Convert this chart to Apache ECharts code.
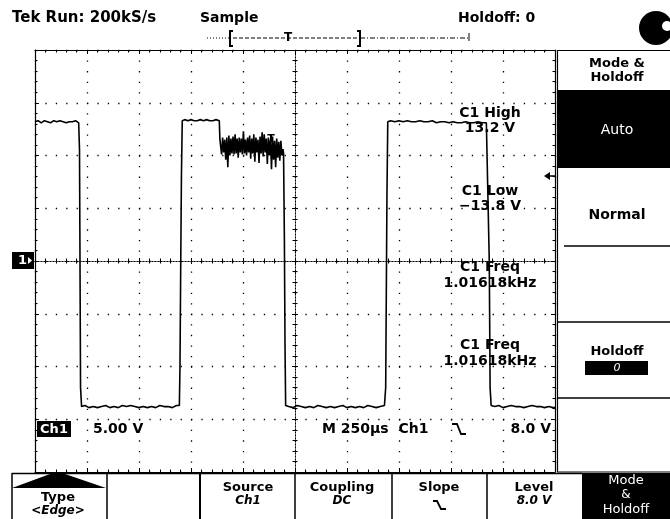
<!DOCTYPE html>
<html>
<head>
<meta charset="utf-8">
<script src="https://cdn.jsdelivr.net/npm/echarts@6/dist/echarts.min.js"></script>
<style>html,body{margin:0;padding:0;background:#fff}#c{width:670px;height:519px}</style>
</head>
<body>
<div id="c"></div>
<script>
// ---- scope settings ----
const voltsPerDiv = 5;          // Ch1 5.00 V
const timePerDiv = 250;         // M 250µs
const yMin = -20, yMax = 20;    // 8 vertical divisions, ground at centre
const xMin = 0, xMax = 2500;    // 10 horizontal divisions (µs)

// ---- trace samples [time µs, volts] ----
const high1 = [[0,13.2],[15,13.3],[30,13.1],[45,13.3],[60,13.2],[75,13.1],[90,13.3],[105,13.2],[120,13.3],[135,13.2],[150,13.1],[165,13.2],[180,13.2],[195,13.3],[210,13.1]];
const fall1 = [[214,10.5],[219,-12.0],[224,-13.8]];
const low1 = [[240,-13.7],[260,-13.9],[280,-13.8],[300,-13.9],[320,-13.8],[340,-13.7],[360,-13.9],[380,-13.8],[400,-13.9],[420,-13.7],[440,-13.8],[460,-13.7],[480,-13.8],[500,-13.9],[520,-13.8],[540,-13.9],[560,-13.8],[580,-13.9],[600,-13.7],[620,-13.8],[640,-13.8],[660,-13.9],[680,-13.7],[694,-13.7]];
const rise1 = [[697,-10.0],[700,-2.0],[704,8.0],[708,13.3]];
const high2 = [[720,13.4],[735,13.3],[750,13.4],[765,13.3],[780,13.3],[795,13.4],[810,13.3],[825,13.4],[840,13.3],[855,13.3],[870,13.4],[886,13.3],[889,11.5]];
const noisy = [[892,11.4],[897,10.1],[902,11.7],[907,10.3],[912,11.5],[917,9.6],[922,11.7],[927,8.9],[932,11.9],[937,10.0],[942,11.6],[947,10.2],[952,11.8],[957,10.1],[962,12.0],[967,10.2],[972,11.6],[977,9.8],[982,11.7],[987,10.3],[992,11.6],[997,10.1],[1002,12.3],[1007,10.2],[1012,11.5],[1017,10.0],[1022,11.7],[1027,10.3],[1032,11.9],[1037,9.7],[1042,11.6],[1047,10.2],[1052,12.0],[1057,9.4],[1062,11.7],[1067,10.3],[1072,11.5],[1077,9.3],[1082,11.8],[1087,10.2],[1092,12.2],[1097,9.9],[1102,12.0],[1107,10.3],[1112,11.6],[1117,9.2],[1122,11.7],[1127,10.0],[1132,11.5],[1137,8.7],[1142,11.8],[1147,9.6],[1152,11.4],[1157,8.9],[1162,11.6],[1167,9.8],[1172,11.3],[1177,9.5],[1182,11.4],[1187,10.0],[1192,10.6]];
const fall2 = [[1195,10.2],[1199,2.0],[1202,-8.0],[1205,-13.7]];
const low2 = [[1220,-13.8],[1240,-13.9],[1260,-13.7],[1280,-13.8],[1300,-13.9],[1320,-13.8],[1340,-13.9],[1360,-13.7],[1380,-13.8],[1400,-13.9],[1420,-13.8],[1440,-13.9],[1460,-13.8],[1480,-13.7],[1500,-13.9],[1520,-13.8],[1540,-13.9],[1560,-13.8],[1580,-13.9],[1600,-13.7],[1620,-13.8],[1640,-13.9],[1660,-13.8],[1680,-13.7]];
const rise2 = [[1686,-12.0],[1689,-3.0],[1692,6.0],[1696,13.2]];
const high3 = [[1710,13.3],[1730,13.2],[1750,13.3],[1770,13.2],[1790,13.3],[1810,13.2],[1830,13.2],[1850,13.3],[1870,13.2],[1890,13.2],[1910,13.3],[1930,13.1],[1950,13.2],[1970,13.2],[1990,13.1],[2010,13.2],[2030,13.1],[2050,13.1],[2070,13.2],[2090,13.1],[2110,13.1],[2130,13.2],[2150,13.1],[2170,13.1],[2178,13.1]];
const fall3 = [[2184,0.0],[2188,-12.0],[2193,-13.7]];
const low3 = [[2210,-13.8],[2230,-13.7],[2250,-13.9],[2270,-13.8],[2290,-13.7],[2310,-13.8],[2330,-13.8],[2350,-13.9],[2370,-13.8],[2390,-13.7],[2410,-13.8],[2430,-13.8],[2450,-13.9],[2470,-13.8],[2490,-13.9],[2500,-13.9]];

// ---- readouts ----
const measureLabels = ['C1 High', '13.2 V', 'C1 Low', '\u221213.8 V', 'C1 Freq', '1.01618kHz', 'C1 Freq', '1.01618kHz'];
const bottomMenu = [['Type', '<Edge>'], ['', ''], ['Source', 'Ch1'], ['Coupling', 'DC'], ['Slope', ''], ['Level', '8.0 V']];

const trace = [].concat(high1, fall1, low1, rise1, high2, noisy, fall2, low2, rise2, high3, fall3, low3);

const K = '#000';
const F = '"DejaVu Sans", sans-serif';
function txt(t, x, y, opt) {
  opt = opt || {};
  return {type:'text', x:x, y:y, z:100, silent:true,
    style:{text:t, font:(opt.font || 'bold 14px ' + F), fill:opt.fill || K,
      textAlign:opt.align || 'left', textVerticalAlign:'middle'}};
}
function ln(x1,y1,x2,y2,w,dash) {
  return {type:'line', z:90, silent:true, shape:{x1:x1,y1:y1,x2:x2,y2:y2},
    style:{stroke:K, lineWidth:w||1, lineDash:dash||null}};
}
function rect(x,y,w,h,fill) {
  return {type:'rect', z:80, silent:true, shape:{x:x,y:y,width:w,height:h}, style:{fill:fill||K}};
}
function pl(points,w) {
  return {type:'polyline', z:100, silent:true, shape:{points:points}, style:{stroke:K, fill:null, lineWidth:w||1.6}};
}

const els = [];
// header
els.push(txt('Tek Run: 200kS/s', 12, 18, {font:'bold 15px ' + F}));
els.push(txt('Sample', 200, 18));
els.push(txt('Holdoff: 0', 458, 18));
els.push({type:'circle', z:90, shape:{cx:656, cy:28, r:17}, style:{fill:K}});
els.push({type:'circle', z:91, shape:{cx:667, cy:26, r:5}, style:{fill:'#fff'}});
// record bar
els.push(ln(207, 38, 230, 38, 1, [1, 2]));
els.push(ln(233, 38, 357, 38, 1, [4, 2]));
els.push(ln(360, 38, 468, 38, 1, [5, 2, 1, 2]));
els.push(pl([[233,31],[230,31],[230,46],[233,46]], 2));
els.push(pl([[357,31],[360,31],[360,46],[357,46]], 2));
els.push(txt('T', 288, 38, {align:'center', font:'bold 12px ' + F}));
els.push(ln(469, 33, 469, 41, 1));
// ground marker
els.push(rect(12, 252, 22, 17));
els.push(txt('1', 18, 260.5, {fill:'#fff', font:'bold 13px ' + F}));
els.push({type:'polygon', z:100, shape:{points:[[28,257],[32,260.5],[28,264]]}, style:{fill:'#fff'}});
// trigger level arrow
els.push({type:'polygon', z:100, shape:{points:[[544,176],[550,172],[550,180]]}, style:{fill:K}});
els.push(ln(550, 176, 556, 176, 1.5));
// trigger point marker on trace
els.push(txt('T', 271, 139, {align:'center', font:'bold 11px ' + F}));
// measurement readouts
const my = [113, 128, 191, 206, 267, 283, 345, 361];
measureLabels.forEach((t, i) => els.push(txt(t, 490, my[i], {align:'center'})));
// bottom status line inside graticule
els.push(rect(37, 421, 34, 16));
els.push(txt('Ch1', 54, 429.5, {align:'center', fill:'#fff', font:'bold 13px ' + F}));
els.push(txt('5.00 V', 93, 429));
els.push(txt('M 250\u00b5s  Ch1', 322, 429));
els.push(pl([[452,424],[457,424],[461,434],[466,434]], 1.8));
els.push(txt('8.0 V', 551, 429, {align:'right'}));
// right menu
els.push(ln(557.5, 50, 557.5, 472, 1.2));
els.push(ln(557, 50.5, 670, 50.5, 1.2));
els.push(ln(557, 472, 670, 472, 1.2));
els.push(txt('Mode &', 617, 64, {align:'center', font:'bold 13px ' + F}));
els.push(txt('Holdoff', 617, 78, {align:'center', font:'bold 13px ' + F}));
els.push(rect(558, 90, 112, 78));
els.push(txt('Auto', 617, 130, {align:'center', fill:'#fff', font:'14px ' + F}));
els.push(txt('Normal', 617, 215, {align:'center'}));
els.push(ln(564, 246, 670, 246, 1.5));
els.push(ln(557, 322, 670, 322, 1.5));
els.push(txt('Holdoff', 617, 352, {align:'center', font:'bold 13px ' + F}));
els.push(rect(585, 361, 63, 14));
els.push(txt('0', 617, 368, {align:'center', fill:'#fff', font:'italic 11px ' + F}));
els.push(ln(557, 398, 670, 398, 1.5));
// bottom menu
els.push(ln(12, 473.5, 582, 473.5, 1.5));
[12, 107, 200, 295, 392, 487].forEach(x => els.push(ln(x, 473, x, 519, x === 200 ? 2 : 1.5)));
els.push(rect(582, 473, 88, 46));
els.push({type:'polygon', z:100, shape:{points:[[12,488],[50,474],[65,474],[106,488]]}, style:{fill:K}});
const bcx = [58, 153, 248, 342, 439, 534];
bottomMenu.forEach((b, i) => {
  if (!b[0]) return;
  const top = i === 0 ? 498 : 488;
  els.push(txt(b[0], bcx[i], top, {align:'center', font:'bold 13px ' + F}));
  if (b[1]) els.push(txt(b[1], bcx[i], top + 13, {align:'center', font:'bold italic 12px ' + F}));
});
els.push(pl([[433,501],[437,501],[441,509],[446,509]], 1.8));
els.push(txt('Mode', 626, 481, {align:'center', fill:'#fff', font:'13px ' + F}));
els.push(txt('&', 626, 495, {align:'center', fill:'#fff', font:'12px ' + F}));
els.push(txt('Holdoff', 626, 510, {align:'center', fill:'#fff', font:'13px ' + F}));

const tickStyle = {color:K, width:1};
function edgeAxis(extra) {
  return Object.assign({
    type:'value', axisLabel:{show:false},
    axisLine:{show:true, onZero:false, lineStyle:{color:K, width:1.2}},
    axisTick:{show:true, inside:true, length:4, lineStyle:tickStyle},
    minorTick:{show:true, splitNumber:5, length:2.5, lineStyle:tickStyle},
    splitLine:{show:false}
  }, extra);
}
function centerAxis(extra, inside, idx) {
  return Object.assign({
    type:'value', axisLabel:{show:false},
    axisLine:{show:true, onZero:true, onZeroAxisIndex:idx, lineStyle:{color:K, width:1, type:[1,2]}},
    axisTick:{show:true, inside:inside, length:3, lineStyle:tickStyle},
    minorTick:{show:true, splitNumber:5, length:2.5, lineStyle:tickStyle},
    splitLine:{show:false}
  }, extra);
}

const chart = echarts.init(document.getElementById('c'), null, {renderer:'canvas'});
chart.setOption({
  animation:false,
  backgroundColor:'#fff',
  textStyle:{fontFamily:'DejaVu Sans'},
  grid:{left:35, top:50, width:520, height:422, show:false},
  xAxis:[
    edgeAxis({min:xMin, max:xMax, interval:timePerDiv, position:'bottom',
      splitLine:{show:true, lineStyle:{color:K, width:1.3, type:[1.3, 9.25]}}}),
    edgeAxis({min:xMin, max:xMax, interval:timePerDiv, position:'top'}),
    centerAxis({min:xMin, max:xMax, interval:timePerDiv, position:'bottom'}, true, 0),
    centerAxis({min:xMin, max:xMax, interval:timePerDiv, position:'bottom'}, false, 0),
    {type:'value', show:false, min:-(xMax - xMin) / 2, max:(xMax - xMin) / 2, interval:timePerDiv, position:'bottom',
      axisLine:{onZero:false}, splitLine:{show:false}}
  ],
  yAxis:[
    edgeAxis({min:yMin, max:yMax, interval:voltsPerDiv, position:'left',
      splitLine:{show:true, lineStyle:{color:K, width:1.3, type:[1.3, 9.1]}}}),
    edgeAxis({min:yMin, max:yMax, interval:voltsPerDiv, position:'right'}),
    centerAxis({min:yMin, max:yMax, interval:voltsPerDiv, position:'left'}, true, 4),
    centerAxis({min:yMin, max:yMax, interval:voltsPerDiv, position:'left'}, false, 4)
  ],
  series:[{
    type:'line', xAxisIndex:0, yAxisIndex:0, data:trace, showSymbol:false, symbol:'none',
    lineStyle:{color:K, width:1.6}, z:10, silent:true
  }],
  graphic:{elements:els}
});
</script>
</body>
</html>
